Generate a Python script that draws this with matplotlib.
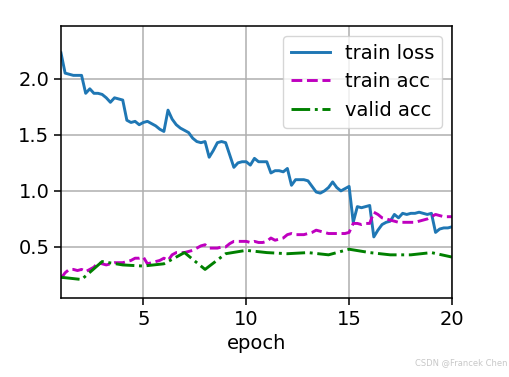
import numpy as np
import matplotlib
matplotlib.use("Agg")
import matplotlib.pyplot as plt

# five points per epoch for the training curves, one per epoch for validation
train_epochs = np.arange(5, 101) / 5.0
train_loss = [
    2.23, 2.05, 2.04, 2.03, 2.03, 2.03, 1.87, 1.91, 1.87, 1.87,
    1.86, 1.83, 1.79, 1.83, 1.82, 1.81, 1.63, 1.61, 1.62, 1.59,
    1.61, 1.62, 1.60, 1.58, 1.55, 1.53, 1.72, 1.64, 1.59, 1.56,
    1.54, 1.52, 1.47, 1.44, 1.43, 1.44, 1.30, 1.36, 1.43, 1.44,
    1.43, 1.32, 1.21, 1.25, 1.26, 1.26, 1.23, 1.29, 1.26, 1.26,
    1.26, 1.16, 1.18, 1.18, 1.17, 1.20, 1.05, 1.10, 1.10, 1.10,
    1.09, 1.04, 0.99, 0.98, 1.00, 1.03, 1.08, 1.03, 1.00, 1.02,
    1.04, 0.72, 0.86, 0.85, 0.86, 0.87, 0.59, 0.65, 0.70, 0.72,
    0.73, 0.79, 0.76, 0.80, 0.79, 0.80, 0.80, 0.81, 0.80, 0.79,
    0.80, 0.63, 0.66, 0.67, 0.67, 0.68,
]
train_acc = [
    0.22, 0.27, 0.30, 0.30, 0.29, 0.30, 0.28, 0.30, 0.32, 0.36,
    0.35, 0.34, 0.35, 0.36, 0.36, 0.36, 0.37, 0.38, 0.40, 0.40,
    0.41, 0.35, 0.36, 0.37, 0.38, 0.40, 0.38, 0.43, 0.45, 0.45,
    0.45, 0.46, 0.47, 0.49, 0.51, 0.52, 0.49, 0.49, 0.49, 0.50,
    0.50, 0.53, 0.55, 0.55, 0.55, 0.55, 0.54, 0.55, 0.54, 0.54,
    0.55, 0.58, 0.56, 0.57, 0.58, 0.61, 0.62, 0.61, 0.61, 0.61,
    0.62, 0.63, 0.65, 0.64, 0.63, 0.62, 0.62, 0.62, 0.62, 0.62,
    0.63, 0.71, 0.71, 0.70, 0.71, 0.71, 0.81, 0.79, 0.76, 0.75,
    0.74, 0.73, 0.72, 0.72, 0.72, 0.72, 0.72, 0.73, 0.74, 0.75,
    0.77, 0.79, 0.78, 0.77, 0.77, 0.77,
]
valid_epochs = np.arange(1, 21)
valid_acc = [
    0.23, 0.21, 0.37, 0.34, 0.33, 0.35, 0.45, 0.30, 0.44, 0.47,
    0.45, 0.44, 0.45, 0.43, 0.48, 0.45, 0.43, 0.43, 0.45, 0.41,
]

s = 1.4  # scale of the original (d2l figure saved at higher dpi)
plt.rcParams.update({
    "font.size": 10 * s,
    "axes.linewidth": 0.8 * s,
    "xtick.major.size": 3.5 * s,
    "ytick.major.size": 3.5 * s,
    "xtick.major.width": 0.8 * s,
    "ytick.major.width": 0.8 * s,
    "grid.linewidth": 0.8 * s,
})

fig = plt.figure(figsize=(5.1, 3.77), dpi=100)
ax = fig.add_axes([0.1196, 0.2095, 0.7667, 0.7215])

lw = 1.5 * s
ax.plot(train_epochs, train_loss, "-", color="#1f77b4", lw=lw, label="train loss")
ax.plot(train_epochs, train_acc, "m--", lw=lw, label="train acc")
ax.plot(valid_epochs, valid_acc, "g-.", lw=lw, label="valid acc")

ax.set_xlim(1, 20)
ax.set_ylim(0.045, 2.47)
ax.set_xticks([5, 10, 15, 20])
ax.set_yticks([0.5, 1.0, 1.5, 2.0])
ax.set_xlabel("epoch")
ax.grid(True, color="#b0b0b0")
ax.legend(loc="upper right")

fig.text(0.995, 0.025, "CSDN @Francek Chen", ha="right", va="bottom",
         fontsize=6, color="#c8c8c8")

fig.savefig("out.png", dpi=100)
